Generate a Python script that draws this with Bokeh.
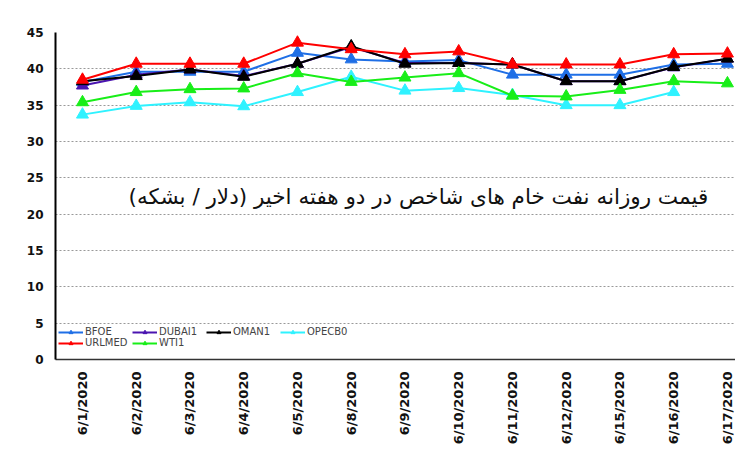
import numpy as np
from bokeh.plotting import figure
from bokeh.models import Label, Legend, LegendItem, FixedTicker, ColumnDataSource
from bokeh.embed import file_html
from bokeh.resources import INLINE

dates = ["6/1/2020", "6/2/2020", "6/3/2020", "6/4/2020", "6/5/2020", "6/8/2020",
         "6/9/2020", "6/10/2020", "6/11/2020", "6/12/2020", "6/15/2020", "6/16/2020", "6/17/2020"]
BFOE = [38.2, 39.6, 39.6, 39.6, 42.2, 41.3, 41.0, 41.2, 39.2, 39.2, 39.2, 40.6, 40.7]
DUBAI1 = [37.7, 39.2, 39.9, 39.0, 40.7, 43.0, 40.8, 40.8, 40.6, 38.3, 38.3, 40.2, 41.4]
OMAN1 = [38.3, 39.0, 39.9, 38.9, 40.7, 43.1, 40.7, 40.8, 40.6, 38.3, 38.3, 40.25, 41.4]
OPECB0 = [33.7, 34.9, 35.4, 34.85, 36.8, 38.9, 37.0, 37.35, 36.4, 35.0, 35.0, 36.8, None]
URLMED = [38.5, 40.7, 40.7, 40.7, 43.6, 42.7, 42.0, 42.4, 40.6, 40.6, 40.6, 42.0, 42.1]
WTI1 = [35.4, 36.8, 37.2, 37.3, 39.4, 38.2, 38.8, 39.4, 36.3, 36.2, 37.1, 38.3, 38.0]
y_ticks = [0, 5, 10, 15, 20, 25, 30, 35, 40, 45]
title_text = "\u200fقیمت روزانه نفت خام های شاخص در دو هفته اخیر (دلار / بشکه)\u200f"

series = [
    ("BFOE", BFOE, "#1f6fe6"),
    ("DUBAI1", DUBAI1, "#4a14b0"),
    ("OMAN1", OMAN1, "#000000"),
    ("OPECB0", OPECB0, "#2ff2ff"),
    ("URLMED", URLMED, "#ff0000"),
    ("WTI1", WTI1, "#18ee18"),
]

xs = list(range(len(dates)))

p = figure(width=735, height=462, output_backend="svg", toolbar_location=None,
           x_range=(-0.502, 12.15), y_range=(0, 45),
           min_border_left=55, min_border_right=0, min_border_top=32, min_border_bottom=103)
p.outline_line_color = None
p.xgrid.grid_line_color = None
p.ygrid.grid_line_color = "#999999"
p.ygrid.grid_line_dash = "2 2"
p.ygrid.grid_line_width = 1

p.yaxis.ticker = FixedTicker(ticks=y_ticks)
p.xaxis.ticker = FixedTicker(ticks=xs)
p.xaxis.major_label_overrides = {i: d for i, d in enumerate(dates)}
p.xaxis.major_label_orientation = np.pi / 2
for ax in (p.xaxis, p.yaxis):
    ax.major_tick_out = 0
    ax.major_tick_in = 0
    ax.minor_tick_out = 0
    ax.minor_tick_in = 0
    ax.major_label_text_font = "DejaVu Sans"
    ax.major_label_text_font_style = "bold"
    ax.major_label_text_color = "#111111"
p.xaxis.major_label_text_font_size = "13px"
p.yaxis.major_label_text_font_size = "12px"
p.xaxis.major_label_standoff = 12
p.yaxis.major_label_standoff = 12
p.yaxis.axis_line_width = 2
p.yaxis.axis_line_color = "#000000"
p.xaxis.axis_line_width = 1.5
p.xaxis.axis_line_color = "#333333"

items = []
for name, vals, color in series:
    ys = [np.nan if v is None else v for v in vals]
    src = ColumnDataSource(dict(x=xs, y=ys))
    l = p.line("x", "y", source=src, line_color=color, line_width=2)
    s = p.scatter("x", "y", source=src, marker="triangle", size=12,
                  fill_color=color, line_color=color)
    items.append(LegendItem(label=name, renderers=[l, s]))

legend = Legend(items=items, orientation="horizontal", ncols=4,
                location=(3, 11), padding=0, margin=0, spacing=0,
                glyph_width=25, glyph_height=10, label_height=10, label_width=47,
                label_standoff=2, label_text_font="DejaVu Sans",
                label_text_font_size="10px", background_fill_alpha=0,
                border_line_color=None)
p.add_layout(legend, "center")

title = Label(x=6.25, y=22.4, text=title_text, text_align="center",
              text_baseline="middle", text_font="DejaVu Sans",
              text_font_size="21.5px", text_color="#111111")
p.add_layout(title)

open("out.html", "w").write(file_html(p, INLINE))
